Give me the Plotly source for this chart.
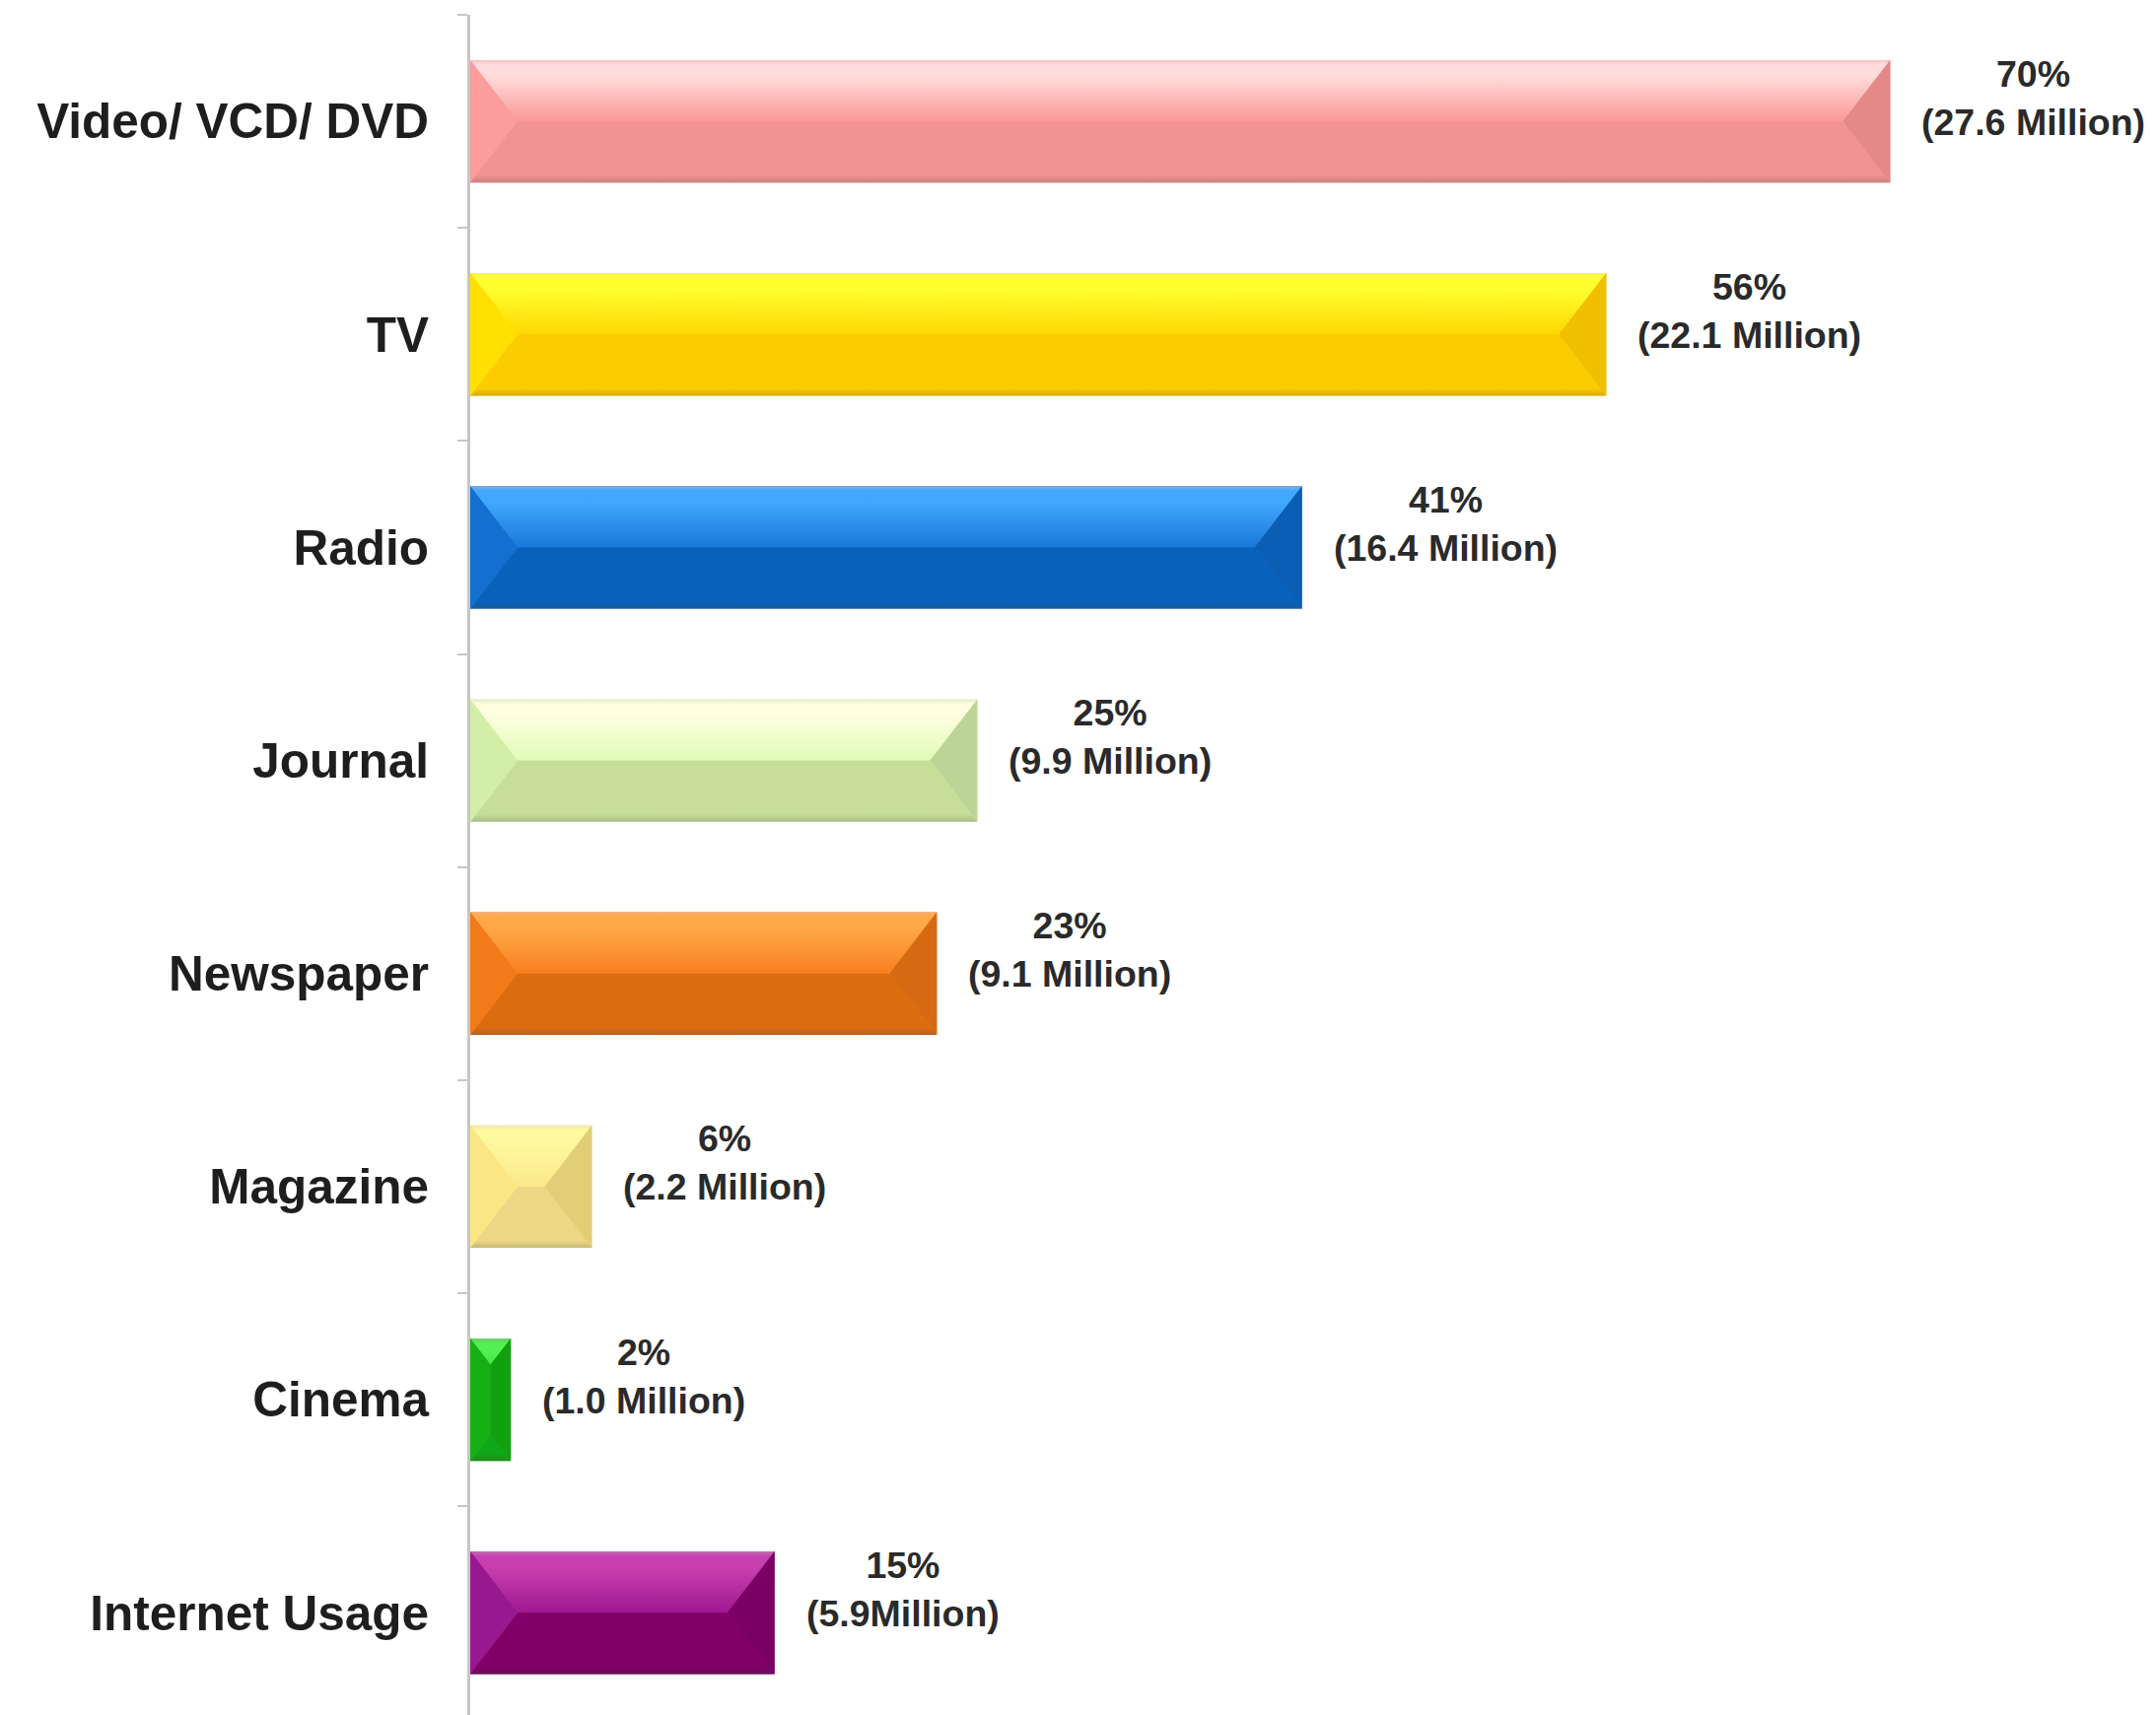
import plotly.graph_objects as go

# ---- data -------------------------------------------------------------
categories = [
    "Video/ VCD/ DVD",
    "TV",
    "Radio",
    "Journal",
    "Newspaper",
    "Magazine",
    "Cinema",
    "Internet Usage",
]
share_pct = [70, 56, 41, 25, 23, 6, 2, 15]
audience_text = [
    "(27.6 Million)",
    "(22.1 Million)",
    "(16.4 Million)",
    "(9.9 Million)",
    "(9.1 Million)",
    "(2.2 Million)",
    "(1.0 Million)",
    "(5.9Million)",
]

# ---- bevel palette per bar ------------------------------------------
# (top edge, highlight, centre, lower, lower edge, left facet, right facet)
palette = [
    ("#f3c2c2", "#ffdcdc", "#fb9797", "#f29292", "#c98080", "#fb9d9d", "#e48888"),
    ("#f2f060", "#ffff30", "#ffd800", "#fdcc00", "#d8ac10", "#ffe000", "#f0c000"),
    ("#7ab0e0", "#42a8ff", "#1a78d8", "#0862bb", "#1a5a9c", "#1470d0", "#0a5eb4"),
    ("#e2ecc8", "#fffee0", "#e0fbb8", "#c6de9a", "#a8bc88", "#d2eea8", "#bcd496"),
    ("#f0b070", "#ffa848", "#f88020", "#dc6c10", "#b86020", "#f27a18", "#d66a12"),
    ("#f0e6b0", "#fff9a0", "#fbe88a", "#ecd884", "#c8b878", "#fbe684", "#e2ce76"),
    ("#70c870", "#52f052", "#18c018", "#10a818", "#208c20", "#16b016", "#10a010"),
    ("#c070b0", "#c840b0", "#a01890", "#800068", "#6a1058", "#981890", "#7a0066"),
]

# ---- geometry ---------------------------------------------------------
FIG_W, FIG_H = 2187, 1740
M_L, M_R, M_T, M_B = 477, 0, 15, 0
X_MAX = 83.1
BAR_W = 0.575
BEVEL_PX = 48

px_per_unit = (FIG_W - M_L - M_R) / X_MAX
bevel_x = BEVEL_PX / px_per_unit
half = BAR_W / 2
ys = list(range(len(categories)))

fig = go.Figure()

# base bars
fig.add_trace(
    go.Bar(
        x=share_pct,
        y=ys,
        orientation="h",
        width=BAR_W,
        marker=dict(color=[p[2] for p in palette], line=dict(width=0)),
        hoverinfo="skip",
        showlegend=False,
    )
)

# bevel facets drawn over each bar
for v, y, pal in zip(share_pct, ys, palette):
    top_edge, hi, mid, low, low_edge, left_c, right_c = pal
    yt, yb = y - half, y + half
    dx = min(bevel_x, v / 2)
    dy = half * dx / bevel_x

    # upper facet: highlight fading to the centre colour
    fig.add_trace(go.Scatter(
        x=[0, v, v - dx, dx, 0], y=[yt, yt, yt + dy, yt + dy, yt],
        fill="toself", mode="none", fillcolor=mid,
        fillgradient=dict(type="vertical",
                          colorscale=[[0, top_edge], [0.08, hi], [0.25, hi], [1, mid]],
                          start=yt, stop=y),
        hoverinfo="skip", showlegend=False))
    # lower facet
    fig.add_trace(go.Scatter(
        x=[0, v, v - dx, dx, 0], y=[yb, yb, yb - dy, yb - dy, yb],
        fill="toself", mode="none", fillcolor=low,
        fillgradient=dict(type="vertical",
                          colorscale=[[0, low], [0.88, low], [1, low_edge]],
                          start=y, stop=yb),
        hoverinfo="skip", showlegend=False))
    # left facet
    fig.add_trace(go.Scatter(
        x=[0, dx, dx, 0, 0], y=[yt, yt + dy, yb - dy, yb, yt],
        fill="toself", mode="none", fillcolor=left_c,
        hoverinfo="skip", showlegend=False))
    # right facet
    fig.add_trace(go.Scatter(
        x=[v, v - dx, v - dx, v, v], y=[yt, yt + dy, yb - dy, yb, yt],
        fill="toself", mode="none", fillcolor=right_c,
        hoverinfo="skip", showlegend=False))

# value labels
for v, y, pct, aud in zip(share_pct, ys, share_pct, audience_text):
    fig.add_annotation(
        x=v, y=y, xref="x", yref="y",
        text=f"{pct}%<br>{aud}",
        showarrow=False,
        xanchor="left", yanchor="middle", align="center",
        xshift=30, yshift=24,
        font=dict(family="Liberation Sans", size=37.5, color="#2a2a2a", weight="bold"),
    )

fig.update_layout(
    width=FIG_W, height=FIG_H,
    margin=dict(l=M_L, r=M_R, t=M_T, b=M_B),
    paper_bgcolor="white", plot_bgcolor="white",
    showlegend=False,
    barmode="overlay",
    xaxis=dict(visible=False, range=[0, X_MAX], showgrid=False, zeroline=False),
    yaxis=dict(
        range=[len(categories) - 0.52, -0.5],
        tickmode="array", tickvals=ys, ticktext=categories,
        ticks="", ticklabelstandoff=29,
        tickfont=dict(family="Liberation Sans", size=49.5, color="#1e1e1e", weight="bold"),
        showline=True, linecolor="#c6c6c6", linewidth=3,
        showgrid=False, zeroline=False,
        minor=dict(
            tickmode="array",
            tickvals=[k - 0.5 for k in range(len(categories) + 1)],
            ticks="outside", ticklen=10, tickwidth=2, tickcolor="#c6c6c6",
            showgrid=False,
        ),
    ),
)

fig.write_html("out.html")
